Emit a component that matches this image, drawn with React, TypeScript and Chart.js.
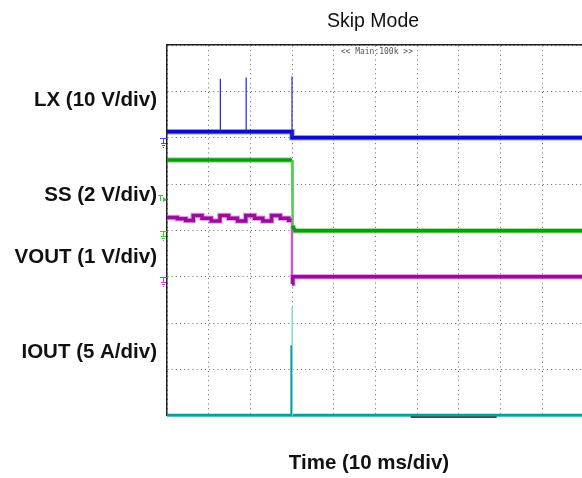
import { useEffect, useRef } from "react";
import { Chart, registerables } from "chart.js";

Chart.register(...registerables);

// Time axis in ms (10 ms/div), vertical axis in screen divisions (8 div)
const X_MAX_MS = 99.6;
const Y_DIVS = 8;

// LX (10 V/div)
const lxTime = [0, 30.0, 30.0, 99.6];
const lxDiv = [6.13, 6.13, 6.0, 6.0];
const lxSpikeTime = [12.8, 19.0, 30.0];
const lxSpikeBase = [6.13, 6.13, 6.0];
const lxSpikeTop = [7.27, 7.3, 7.32];

// SS (2 V/div)
const ssTime = [0, 30.0, 30.15, 30.7, 99.6];
const ssDiv = [5.52, 5.52, 4.1, 3.99, 3.99];

// VOUT (1 V/div)
const voutTime = [
  0, 2.5, 2.5, 4.5, 4.5, 6.3,
  6.3, 8.4, 8.4, 10.6, 10.6, 12.7,
  12.7, 14.8, 14.8, 16.9, 16.9, 18.9,
  18.9, 21.0, 21.0, 23.0, 23.0, 25.1,
  25.1, 27.2, 27.2, 29.2, 29.2, 30.0,
  30.0, 30.2, 99.6,
];
const voutDiv = [
  4.28, 4.28, 4.25, 4.25, 4.21, 4.21,
  4.32, 4.32, 4.26, 4.26, 4.2, 4.2,
  4.32, 4.32, 4.26, 4.26, 4.2, 4.2,
  4.32, 4.32, 4.26, 4.26, 4.2, 4.2,
  4.32, 4.32, 4.26, 4.26, 4.22, 4.22,
  2.85, 3.0, 3.0,
];

// IOUT (5 A/div)
const ioutTime = [0, 99.6];
const ioutDiv = [0.01, 0.01];
const ioutSpikeTime = [29.8, 30.05];
const ioutSpikeTop = [1.52, 2.35];

// scope horizontal position indicator
const posMarkTime = [58.5, 79.1];
const posMarkDiv = [-0.03, -0.03];

// channel ground / trigger markers (divisions)
const groundDiv = [6.0, 3.99, 3.0];
const groundColor = ["#4a4aff", "#3cc43c", "#c83cc8"];
const triggerDiv = 4.68;

const channelLabels = ["LX (10 V/div)", "SS (2 V/div)", "VOUT (1 V/div)", "IOUT (5 A/div)"];
const titleText = "Skip Mode";
const xTitleText = "Time (10 ms/div)";
const topInfoText = "<< Main:100k >>";

const pts = (xs: number[], ys: number[]) => xs.map((x, i) => ({ x, y: ys[i] }));
const spikePts = (xs: number[], base: number[] | number, top: number[]) =>
  xs.flatMap((x, i) => [
    { x, y: Array.isArray(base) ? base[i] : base },
    { x, y: top[i] },
    { x, y: null as any },
  ]);

const isSteep = (c: any) =>
  Math.abs(c.p1.x - c.p0.x) < 3 && Math.abs(c.p1.y - c.p0.y) > 12;

function trace(label: string, data: any[], core: string, halo: string, w: number, hw: number, edge: string) {
  const common = {
    type: "line" as const,
    pointRadius: 0,
    tension: 0,
    fill: false,
    spanGaps: false,
    clip: { left: 0, top: 0, right: 0, bottom: 6 } as any,
  };
  return [
    {
      ...common,
      label: label + " halo",
      data,
      borderColor: halo,
      borderWidth: hw,
      order: 3,
      segment: {
        borderWidth: (c: any) => (isSteep(c) ? 2.5 : undefined),
        borderColor: (c: any) => (isSteep(c) ? edge : undefined),
      },
    },
    {
      ...common,
      label,
      data,
      borderColor: core,
      borderWidth: w,
      order: 2,
      segment: {
        borderWidth: (c: any) => (isSteep(c) ? 1 : undefined),
        borderColor: (c: any) => (isSteep(c) ? edge : undefined),
      },
    },
  ];
}

const overlay = {
  id: "overlay",
  afterDatasetsDraw(chart: any) {
    const { ctx, chartArea, scales } = chart;
    const ys = scales.y;
    const xs = scales.x;
    ctx.save();

    // ground markers
    const cx = chartArea.left - 4;
    groundDiv.forEach((d, i) => {
      const top = Math.round(ys.getPixelForValue(d));
      ctx.strokeStyle = groundColor[i];
      ctx.lineWidth = 1;
      ctx.beginPath();
      ctx.moveTo(cx - 3, top + 0.5);
      ctx.lineTo(cx + 4, top + 0.5);
      ctx.moveTo(cx + 0.5, top);
      ctx.lineTo(cx + 0.5, top + 5);
      ctx.moveTo(cx - 2, top + 5.5);
      ctx.lineTo(cx + 3, top + 5.5);
      ctx.moveTo(cx - 1, top + 7.5);
      ctx.lineTo(cx + 2, top + 7.5);
      ctx.moveTo(cx, top + 9.5);
      ctx.lineTo(cx + 1, top + 9.5);
      ctx.stroke();
    });

    // trigger marker
    const ty = Math.round(ys.getPixelForValue(triggerDiv));
    ctx.strokeStyle = "#3cc43c";
    ctx.fillStyle = "#3cc43c";
    ctx.lineWidth = 1;
    ctx.beginPath();
    ctx.moveTo(chartArea.left - 9, ty - 3.5);
    ctx.lineTo(chartArea.left - 4, ty - 3.5);
    ctx.moveTo(chartArea.left - 6.5, ty - 4);
    ctx.lineTo(chartArea.left - 6.5, ty + 2);
    ctx.stroke();
    ctx.beginPath();
    ctx.moveTo(chartArea.left - 4, ty - 2);
    ctx.lineTo(chartArea.left, ty + 1);
    ctx.lineTo(chartArea.left - 4, ty + 3);
    ctx.closePath();
    ctx.fill();

    // top info
    ctx.fillStyle = "#555";
    ctx.font = '8px "DejaVu Sans Mono", monospace';
    ctx.textAlign = "center";
    ctx.textBaseline = "alphabetic";
    ctx.fillText(topInfoText, xs.getPixelForValue(50) + 1.5, chartArea.top + 9);

    // channel labels
    ctx.fillStyle = "#111";
    ctx.font = 'bold 20.5px "Liberation Sans", Arial, sans-serif';
    ctx.textAlign = "right";
    const labelBase = [105.7, 200.7, 263.3, 358.3];
    channelLabels.forEach((t, i) => ctx.fillText(t, chartArea.left - 10, labelBase[i]));

    // x title
    ctx.textAlign = "center";
    ctx.fillText(xTitleText, 369, 469);

    // title
    ctx.font = '19.5px "Liberation Sans", Arial, sans-serif';
    ctx.fillText(titleText, 373, 26.5);

    ctx.restore();
  },
};

export default function App() {
  const ref = useRef<HTMLCanvasElement>(null);
  useEffect(() => {
    if (!ref.current) return;
    const datasets: any[] = [
      ...trace("LX", pts(lxTime, lxDiv), "#0b0bc8", "rgba(70,70,235,0.55)", 3.5, 5.5, "#2a2ad8"),
      {
        type: "line",
        label: "LX spikes",
        data: spikePts(lxSpikeTime, lxSpikeBase, lxSpikeTop),
        borderColor: "#2222d8",
        borderWidth: 1.2,
        pointRadius: 0,
        spanGaps: false,
        order: 1,
      },
      ...trace("SS", pts(ssTime, ssDiv), "#0c9c0c", "rgba(80,200,80,0.55)", 3.5, 5.5, "#5ccc5c"),
      ...trace("VOUT", pts(voutTime, voutDiv), "#9c0c9c", "rgba(205,90,205,0.55)", 3.5, 5.5, "#c060c8"),
      ...trace("IOUT", pts(ioutTime, ioutDiv), "#0a9ea0", "rgba(90,200,200,0.6)", 2.5, 4, "#60c8c8"),
      {
        type: "line",
        label: "IOUT spike",
        data: spikePts([ioutSpikeTime[1]], 0, [ioutSpikeTop[1]]),
        borderColor: "#86d8d8",
        borderWidth: 1.5,
        pointRadius: 0,
        spanGaps: false,
        order: 1,
      },
      {
        type: "line",
        label: "IOUT spike core",
        data: spikePts([ioutSpikeTime[0]], 0, [ioutSpikeTop[0]]),
        borderColor: "#0a9a9a",
        borderWidth: 1.6,
        pointRadius: 0,
        spanGaps: false,
        order: 0,
      },
      {
        type: "line",
        label: "position",
        data: pts(posMarkTime, posMarkDiv),
        borderColor: "#111",
        borderWidth: 1.2,
        pointRadius: 0,
        order: 0,
        clip: { left: 0, top: 0, right: 0, bottom: 6 },
      },
    ];
    const chart = new Chart(ref.current, {
      type: "line",
      data: { datasets },
      options: {
        animation: false,
        responsive: false,
        devicePixelRatio: 1,
        layout: { padding: { left: 167, top: 45, right: 0, bottom: 62.3 } },
        plugins: { legend: { display: false }, title: { display: false }, tooltip: { enabled: false } },
        scales: {
          x: {
            type: "linear",
            position: "top",
            min: 0,
            max: X_MAX_MS,
            ticks: { display: false, stepSize: 10, includeBounds: false },
            grid: { color: "rgba(0,0,0,0.6)", lineWidth: 1, drawTicks: false },
            border: { display: true, color: "#222", width: 1.5, dash: [1, 3.65] },
          },
          y: {
            type: "linear",
            min: 0,
            max: Y_DIVS,
            ticks: { display: false, stepSize: 1 },
            grid: { color: "rgba(0,0,0,0.6)", lineWidth: 1, drawTicks: false },
            border: { display: true, color: "#222", width: 1.5, dash: [1, 3.17] },
          },
        },
      },
      plugins: [overlay],
    });
    return () => chart.destroy();
  }, []);
  return (
    <div style={{ position: "absolute", left: 0, top: 0, width: 582, height: 478, background: "#fff" }}>
      <canvas ref={ref} width={582} height={478} />
    </div>
  );
}
